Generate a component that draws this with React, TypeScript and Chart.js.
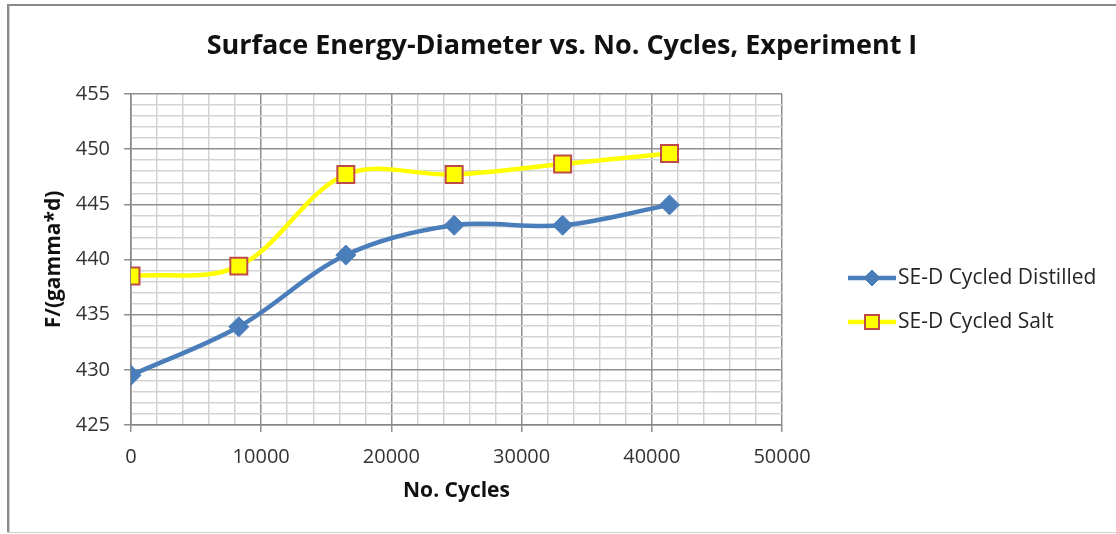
import React, { useEffect, useRef } from "react";
import { Chart, registerables } from "chart.js";

Chart.register(...registerables);

const cycles = [0, 8280, 16500, 24820, 33150, 41360];
const distilled = [429.5, 433.9, 440.4, 443.1, 443.1, 444.95];
const salt = [438.5, 439.4, 447.7, 447.7, 448.65, 449.6];
const seriesNames = ["SE-D Cycled Distilled", "SE-D Cycled Salt"];
const chartTitle = "Surface Energy-Diameter vs. No. Cycles, Experiment I";
const xTitle = "No. Cycles";
const yTitle = "F/(gamma*d)";

const W = 1116;
const H = 534;
const FONT = "'Open Sans'";

const framePlugin = {
  id: "frame",
  beforeDraw(chart: any) {
    const ctx = chart.ctx;
    ctx.save();
    ctx.fillStyle = "#ffffff";
    ctx.fillRect(0, 0, chart.width, chart.height);
    ctx.fillStyle = "#8a8a8a";
    ctx.fillRect(7, 4, 2, H - 5);
    ctx.fillRect(7, 4, W - 7, 2);
    ctx.fillStyle = "#d0d0d0";
    ctx.fillRect(9, 6, 1, H - 7);
    ctx.fillRect(7, H - 2, W - 7, 1);
    ctx.restore();
  },
};

const titlePlugin = {
  id: "centeredTitle",
  afterDraw(chart: any) {
    const ctx = chart.ctx;
    ctx.save();
    ctx.fillStyle = "#111111";
    ctx.font = `bold 27px ${FONT}`;
    ctx.textAlign = "center";
    ctx.textBaseline = "middle";
    ctx.fillText(chartTitle, 562, 46);
    ctx.restore();
  },
};

const legendPlugin = {
  id: "customLegend",
  afterDraw(chart: any) {
    const ctx = chart.ctx;
    const ys = [278, 322];
    ctx.save();
    chart.data.datasets.forEach((ds: any, i: number) => {
      const y = ys[i];
      ctx.strokeStyle = ds.borderColor;
      ctx.lineWidth = ds.borderWidth;
      ctx.beginPath();
      ctx.moveTo(848, y);
      ctx.lineTo(896, y);
      ctx.stroke();
      ctx.fillStyle = ds.pointBackgroundColor;
      ctx.strokeStyle = ds.pointBorderColor;
      ctx.lineWidth = ds.pointBorderWidth;
      const cx = 872;
      if (ds.pointStyle === "rectRot") {
        const r = 8;
        ctx.beginPath();
        ctx.moveTo(cx - r, y);
        ctx.lineTo(cx, y - r);
        ctx.lineTo(cx + r, y);
        ctx.lineTo(cx, y + r);
        ctx.closePath();
        ctx.fill();
        ctx.stroke();
      } else {
        const h = 7;
        ctx.beginPath();
        ctx.rect(cx - h, y - h, 2 * h, 2 * h);
        ctx.fill();
        ctx.stroke();
      }
      ctx.fillStyle = "#262626";
      ctx.font = `21px ${FONT}`;
      ctx.textAlign = "left";
      ctx.textBaseline = "middle";
      ctx.fillText(ds.label, 898, y);
    });
    ctx.restore();
  },
};

export default function App() {
  const ref = useRef<HTMLCanvasElement | null>(null);

  useEffect(() => {
    if (!ref.current) return;
    const majorX = (v: number) => v % 10000 === 0;
    const majorY = (v: number) => Math.round(v) % 5 === 0;
    const chart = new Chart(ref.current, {
      type: "line",
      data: {
        labels: cycles,
        datasets: [
          {
            label: seriesNames[0],
            data: cycles.map((x, i) => ({ x, y: distilled[i] })),
            borderColor: "#4a7ebb",
            borderWidth: 4.5,
            pointStyle: "rectRot",
            pointRadius: 10,
            pointBackgroundColor: "#4a7ebb",
            pointBorderColor: "#4a7ebb",
            pointBorderWidth: 1,
            tension: 0.35,
          },
          {
            label: seriesNames[1],
            data: cycles.map((x, i) => ({ x, y: salt[i] })),
            borderColor: "#ffff00",
            borderWidth: 4.5,
            pointStyle: "rect",
            pointRadius: 12,
            pointBackgroundColor: "#ffff00",
            pointBorderColor: "#be4b48",
            pointBorderWidth: 2,
            tension: 0.35,
          },
        ],
      },
      options: {
        responsive: false,
        animation: false,
        devicePixelRatio: 1,
        layout: { padding: { left: 0, right: 334, top: 94, bottom: 0 } },
        plugins: {
          legend: { display: false },
          tooltip: { enabled: false },
          title: { display: false },
        },
        scales: {
          x: {
            type: "linear",
            min: 0,
            max: 50000,
            afterBuildTicks(scale: any) {
              const t = [];
              for (let v = 0; v <= 50000; v += 2000) t.push({ value: v });
              scale.ticks = t;
            },
            afterFit(scale: any) {
              scale.height = 109;
            },
            ticks: {
              autoSkip: false,
              maxRotation: 0,
              padding: 13,
              color: "#333333",
              font: { family: FONT, size: 20 },
              callback: (v: any) => (majorX(Number(v)) ? String(v) : ""),
            },
            grid: {
              color: (c: any) => (majorX(c.tick.value) ? "#8f8f8f" : "#d3d3d3"),
              lineWidth: 1.5,
              tickColor: (c: any) => (majorX(c.tick.value) ? "#8f8f8f" : "rgba(0,0,0,0)"),
              tickLength: 7,
            },
            border: { display: true, color: "#868686", width: 1.5 },
            title: {
              display: true,
              text: xTitle,
              color: "#111111",
              font: { family: FONT, size: 21, weight: "bold" },
              padding: { top: 0, bottom: 30 },
            },
          },
          y: {
            type: "linear",
            min: 425,
            max: 455,
            afterBuildTicks(scale: any) {
              const t = [];
              for (let v = 425; v <= 455; v += 1) t.push({ value: v });
              scale.ticks = t;
            },
            afterFit(scale: any) {
              scale.width = 131;
            },
            ticks: {
              autoSkip: false,
              padding: 14,
              color: "#333333",
              font: { family: FONT, size: 20 },
              callback: (v: any) => (majorY(Number(v)) ? String(v) : ""),
            },
            grid: {
              color: (c: any) => (majorY(c.tick.value) ? "#8f8f8f" : "#d3d3d3"),
              lineWidth: 1.5,
              tickColor: (c: any) => (majorY(c.tick.value) ? "#8f8f8f" : "rgba(0,0,0,0)"),
              tickLength: 7,
            },
            border: { display: true, color: "#868686", width: 1.5 },
            title: {
              display: true,
              text: yTitle,
              color: "#111111",
              font: { family: FONT, size: 21, weight: "bold" },
              padding: { top: 41, bottom: 0 },
            },
          },
        },
      },
      plugins: [framePlugin, titlePlugin, legendPlugin],
    } as any);
    return () => chart.destroy();
  }, []);

  return (
    <div style={{ position: "absolute", left: 0, top: 0, width: W, height: H }}>
      <canvas ref={ref} width={W} height={H} style={{ width: W, height: H, display: "block" }} />
    </div>
  );
}
